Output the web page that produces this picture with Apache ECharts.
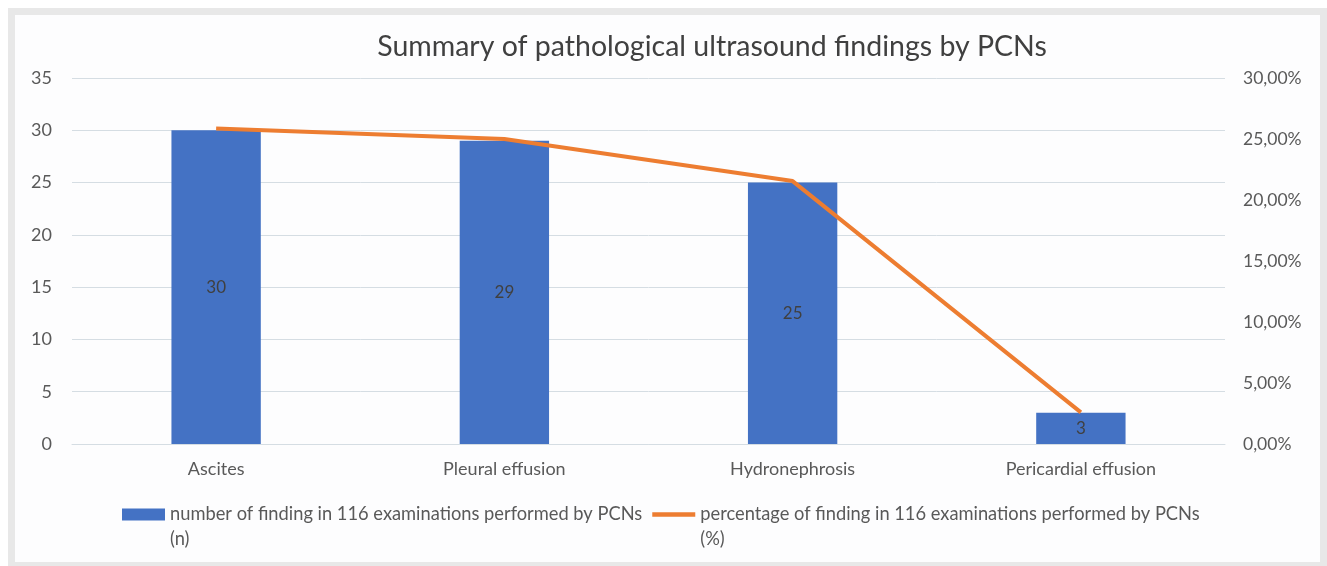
<!DOCTYPE html>
<html><head><meta charset="utf-8">
<script src="https://cdn.jsdelivr.net/npm/echarts@6/dist/echarts.min.js"></script>
<style>
html,body{margin:0;padding:0;background:#fff;width:1327px;height:566px;overflow:hidden;}
#frame{position:absolute;left:8px;top:8px;width:1319px;height:561px;box-sizing:border-box;border:7px solid #e8e8e8;}
#chart{position:absolute;left:0;top:0;width:1305px;height:547px;background:#fdfdfe;}
</style></head>
<body>
<div id="frame"><div id="chart"></div></div>
<script>
const categories = ['Ascites', 'Pleural effusion', 'Hydronephrosis', 'Pericardial effusion'];
const counts = [30, 29, 25, 3];
const percentages = [25.86, 25.00, 21.55, 2.59];
const leftTicks = {min: 0, max: 35, interval: 5};
const rightTicks = {min: 0, max: 30, interval: 5};
const seriesNames = [
  'number of finding in 116 examinations performed by PCNs\n(n)',
  'percentage of finding in 116 examinations performed by PCNs\n(%)'
];

const chart = echarts.init(document.getElementById('chart'));
const txt = '#595959';
const font = 'Lato';
chart.setOption({
  animation: false,
  textStyle: {fontFamily: font},
  title: {
    text: 'Summary of pathological ultrasound findings by PCNs',
    left: 692, top: 12, textAlign: 'center',
    textStyle: {fontFamily: font, fontSize: 28.5, fontWeight: 'normal', color: '#404040'}
  },
  grid: {left: 57, right: 95, top: 63, bottom: 118, containLabel: false},
  legend: {
    left: 102, top: 457, itemGap: 10,
    itemWidth: 43, itemHeight: 12,
    formatter: name => '\n' + name,
    textStyle: {fontFamily: font, fontSize: 18.3, color: txt, lineHeight: 25},
    data: [
      {name: seriesNames[0], icon: 'rect'},
      {name: seriesNames[1], icon: 'path://M0,0 L10,0 L10,1 L0,1 Z', itemStyle: {color: '#ED7D31'}}
    ]
  },
  xAxis: {
    type: 'category', data: categories,
    axisLine: {lineStyle: {color: '#d5dde3'}},
    axisTick: {show: false},
    axisLabel: {color: txt, fontSize: 18, margin: 16}
  },
  yAxis: [
    {type: 'value', min: leftTicks.min, max: leftTicks.max, interval: leftTicks.interval,
     axisLabel: {color: txt, fontSize: 18, margin: 20},
     splitLine: {lineStyle: {color: '#d5dde3'}}},
    {type: 'value', min: rightTicks.min, max: rightTicks.max, interval: rightTicks.interval,
     axisLabel: {color: txt, fontSize: 17.5, margin: 18,
       formatter: v => v.toFixed(2).replace('.', ',') + '%'},
     splitLine: {show: false}}
  ],
  series: [
    {name: seriesNames[0], type: 'bar', data: counts, barWidth: '31%',
     itemStyle: {color: '#4472C4'},
     label: {show: true, position: 'inside', color: '#404040', fontSize: 17}},
    {name: seriesNames[1], type: 'line', yAxisIndex: 1, data: percentages,
     symbol: 'none', lineStyle: {color: '#ED7D31', width: 4}, itemStyle: {color: '#ED7D31'}}
  ]
});
</script>
</body></html>
